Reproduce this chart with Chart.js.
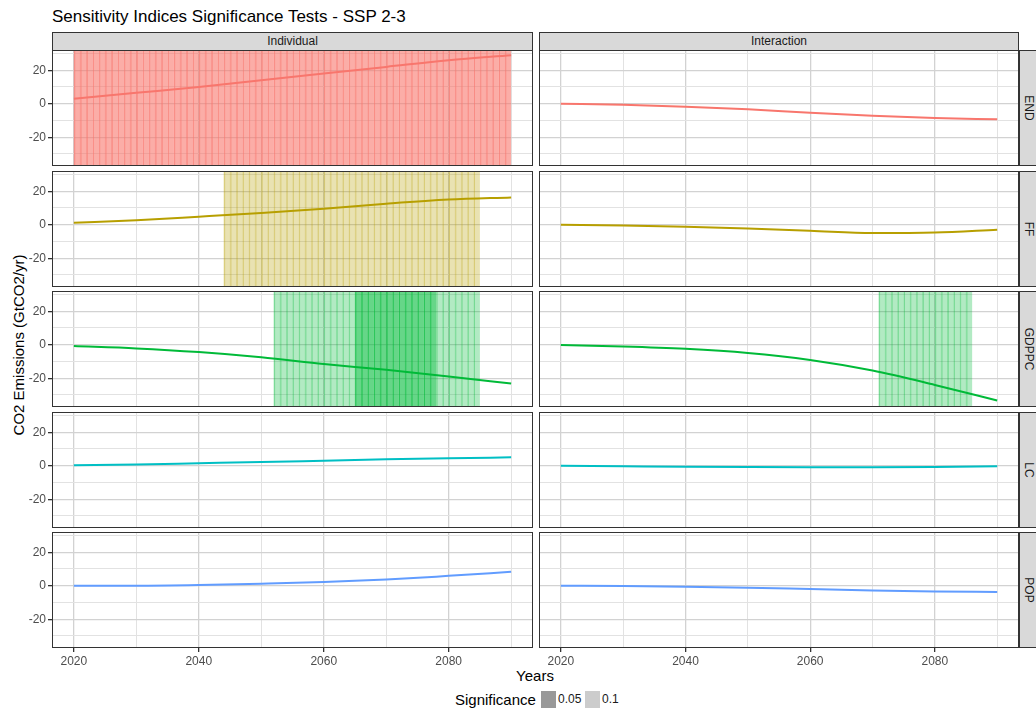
<!DOCTYPE html>
<html lang="en">
<head>
<meta charset="UTF-8">
<title>Sensitivity Indices Significance Tests - SSP 2-3</title>
<script src="https://cdn.jsdelivr.net/npm/chart.js"></script>
<style>
  body { margin: 0; width: 1036px; height: 712px; overflow: hidden; background: #fff; position: relative;
         font-family: "Liberation Sans", Arial, sans-serif; }
  .abs { position: absolute; }
  canvas { position: absolute; }
  .title { left: 52px; top: 7px; font-size: 17px; color: #000; white-space: nowrap; }
  .strip { background: #d9d9d9; border: 1px solid #333; box-sizing: border-box; color: #1a1a1a; font-size: 12px; }
  .strip-top { height: 19px; line-height: 17px; text-align: center; }
  .strip-right { width: 20px; }
  .strip-right span { position: absolute; left: 50%; top: 50%; transform: translate(-50%, -50%) rotate(90deg); white-space: nowrap; }
  .ytitle { left: 18px; top: 345px; transform: translate(-50%, -50%) rotate(-90deg); font-size: 15px; white-space: nowrap; }
  .xtitle { left: 535px; top: 675px; transform: translate(-50%, -50%); font-size: 15px; }
  .legend { top: 691px; font-size: 12px; color: #1a1a1a; }
</style>
</head>
<body>
<div class="abs title">Sensitivity Indices Significance Tests - SSP 2-3</div>
<div class="abs ytitle">CO2 Emissions (GtCO2/yr)</div>
<div class="abs xtitle">Years</div>
<div class="abs legend" style="left:455px; top:691px; font-size:15px; line-height:17px; color:#000;">Significance</div>
<div class="abs" style="left:541px; top:691px; width:15px; height:17px; background:#999;"></div>
<div class="abs legend" style="left:558px; line-height:17px;">0.05</div>
<div class="abs" style="left:585px; top:691px; width:15px; height:17px; background:#ccc;"></div>
<div class="abs legend" style="left:602px; line-height:17px;">0.1</div>
<div id="panels"></div>
<script>
const years = [2020, 2030, 2040, 2050, 2060, 2070, 2080, 2090];
const variables = ['END', 'FF', 'GDPPC', 'LC', 'POP'];
const effects = ['Individual', 'Interaction'];

const endIndividual = [3, 6.5, 10, 14, 18, 22, 26, 29];
const endInteraction = [0, -0.6, -1.8, -3.3, -5.4, -7.2, -8.5, -9.3];
const ffIndividual = [1.2, 2.7, 4.8, 7, 9.5, 12.5, 15, 16.3];
const ffInteraction = [0, -0.5, -1.2, -2.3, -3.6, -5, -4.7, -3];
const gdppcIndividual = [-0.8, -2.2, -4.4, -7.5, -11.5, -15, -19, -23.2];
const gdppcInteraction = [-0.2, -1, -2.4, -4.9, -9.1, -15.4, -24, -33.3];
const lcIndividual = [0.3, 0.8, 1.5, 2.2, 3, 3.8, 4.5, 5];
const lcInteraction = [0, -0.3, -0.6, -0.8, -0.9, -0.9, -0.7, -0.3];
const popIndividual = [0, 0, 0.4, 1.2, 2.2, 3.7, 5.9, 8.3];
const popInteraction = [0, -0.2, -0.6, -1.2, -2, -2.8, -3.4, -3.7];

// significant year spans (first year, end year, level)
const sigVariable = ['END', 'FF', 'GDPPC', 'GDPPC', 'GDPPC', 'GDPPC'];
const sigEffect = ['Individual', 'Individual', 'Individual', 'Individual', 'Individual', 'Interaction'];
const sigFrom = [2020, 2044, 2052, 2065, 2078, 2071];
const sigTo = [2090, 2085, 2065, 2078, 2085, 2086];
const sigLevel = [0.05, 0.1, 0.1, 0.05, 0.1, 0.1];

const yTicks = [-20, 0, 20];
const xTicks = [2020, 2040, 2060, 2080];

const series = {
  END: [endIndividual, endInteraction],
  FF: [ffIndividual, ffInteraction],
  GDPPC: [gdppcIndividual, gdppcInteraction],
  LC: [lcIndividual, lcInteraction],
  POP: [popIndividual, popInteraction]
};
const colors = { END: [248, 118, 109], FF: [183, 159, 0], GDPPC: [0, 186, 56], LC: [0, 191, 196], POP: [97, 156, 255] };
const levelAlpha = { 0.05: 0.6, 0.1: 0.3 };

const Y_MIN = -37.2, Y_MAX = 32.1;
const X_MIN = 2016.5, X_MAX = 2093.5;

const rowTops = [50, 171, 291, 412, 532];
const PANEL_H = 116;
const cols = [{ left: 0, width: 533, axisW: 52 }, { left: 539, width: 480, axisW: 0 }];

const rgba = (c, a) => `rgba(${c[0]},${c[1]},${c[2]},${a})`;

Chart.defaults.font.family = '"Liberation Sans", Arial, sans-serif';

// panel frame
const framePlugin = {
  id: 'frame',
  afterDraw(chart) {
    const a = chart.chartArea, ctx = chart.ctx;
    ctx.save();
    ctx.strokeStyle = '#333';
    ctx.lineWidth = 1;
    ctx.strokeRect(a.left + 0.5, a.top + 0.5, a.right - a.left - 1, a.bottom - a.top - 1);
    ctx.restore();
  }
};

const holder = document.getElementById('panels');

// top strips
effects.forEach((e, j) => {
  const d = document.createElement('div');
  d.className = 'abs strip strip-top';
  d.style.left = (cols[j].left + cols[j].axisW) + 'px';
  d.style.width = (cols[j].width - cols[j].axisW) + 'px';
  d.style.top = '32px';
  d.textContent = e;
  holder.appendChild(d);
});

variables.forEach((v, i) => {
  // right strip
  const s = document.createElement('div');
  s.className = 'abs strip strip-right';
  s.style.left = '1019px';
  s.style.top = rowTops[i] + 'px';
  s.style.height = PANEL_H + 'px';
  s.innerHTML = '<span>' + v + '</span>';
  holder.appendChild(s);

  effects.forEach((e, j) => {
    const bottom = i === variables.length - 1;
    const col = cols[j];
    const cv = document.createElement('canvas');
    const h = PANEL_H + (bottom ? 22 : 0);
    cv.width = col.width; cv.height = h;
    cv.style.left = col.left + 'px';
    cv.style.top = rowTops[i] + 'px';
    holder.appendChild(cv);

    const c = colors[v];
    const datasets = [{
      type: 'line',
      data: years.map((yr, k) => ({ x: yr, y: series[v][j][k] })),
      borderColor: rgba(c, 1),
      borderWidth: 2,
      pointRadius: 0,
      cubicInterpolationMode: 'monotone',
      order: 0
    }];

    [0.05, 0.1].forEach(level => {
      const bars = [];
      sigVariable.forEach((sv, k) => {
        if (sv !== v || sigEffect[k] !== e || sigLevel[k] !== level) return;
        for (let yr = sigFrom[k]; yr < sigTo[k]; yr++) bars.push({ x: yr + 0.5, y: [Y_MIN, Y_MAX] });
      });
      if (!bars.length) return;
      datasets.push({
        type: 'bar',
        data: bars,
        grouped: false,
        backgroundColor: rgba(c, levelAlpha[level]),
        borderColor: rgba(c, levelAlpha[level] + 0.12),
        borderWidth: { left: 1, right: 0, top: 0, bottom: 0 },
        borderSkipped: false,
        barPercentage: 1,
        categoryPercentage: 1,
        order: 1
      });
    });

    new Chart(cv, {
      type: 'bar',
      data: { datasets },
      options: {
        responsive: false,
        animation: false,
        events: [],
        layout: { padding: 0, autoPadding: false },
        plugins: { legend: { display: false }, tooltip: { enabled: false } },
        scales: {
          x: {
            type: 'linear',
            min: X_MIN, max: X_MAX,
            offset: false,
            afterFit: sc => { sc.height = bottom ? 22 : 0; sc.paddingLeft = 0; sc.paddingRight = 0; },
            border: { display: false },
            grid: {
              offset: false,
              drawTicks: bottom,
              tickLength: 4,
              tickColor: ctx => xTicks.includes(ctx.tick.value) ? '#333' : 'rgba(0,0,0,0)',
              color: ctx => xTicks.includes(ctx.tick.value) ? '#d2d2d2' : '#e2e2e2',
              lineWidth: ctx => xTicks.includes(ctx.tick.value) ? 1.3 : 1
            },
            ticks: {
              display: bottom,
              stepSize: 10,
              includeBounds: false,
              autoSkip: false,
              maxRotation: 0,
              padding: 2,
              color: '#4d4d4d',
              font: { size: 12 },
              callback: val => xTicks.includes(val) ? String(val) : ''
            }
          },
          y: {
            min: Y_MIN, max: Y_MAX,
            afterFit: sc => { sc.width = col.axisW; sc.paddingTop = 0; sc.paddingBottom = 0; },
            border: { display: false },
            grid: {
              drawTicks: j === 0,
              tickLength: 4,
              tickColor: ctx => yTicks.includes(ctx.tick.value) ? '#333' : 'rgba(0,0,0,0)',
              color: ctx => yTicks.includes(ctx.tick.value) ? '#d2d2d2' : '#e2e2e2',
              lineWidth: ctx => yTicks.includes(ctx.tick.value) ? 1.3 : 1
            },
            ticks: {
              display: j === 0,
              stepSize: 10,
              includeBounds: false,
              autoSkip: false,
              padding: 2,
              color: '#4d4d4d',
              font: { size: 12 },
              callback: val => yTicks.includes(val) ? String(val) : ''
            }
          }
        }
      },
      plugins: [framePlugin]
    });
  });
});
</script>
</body>
</html>
